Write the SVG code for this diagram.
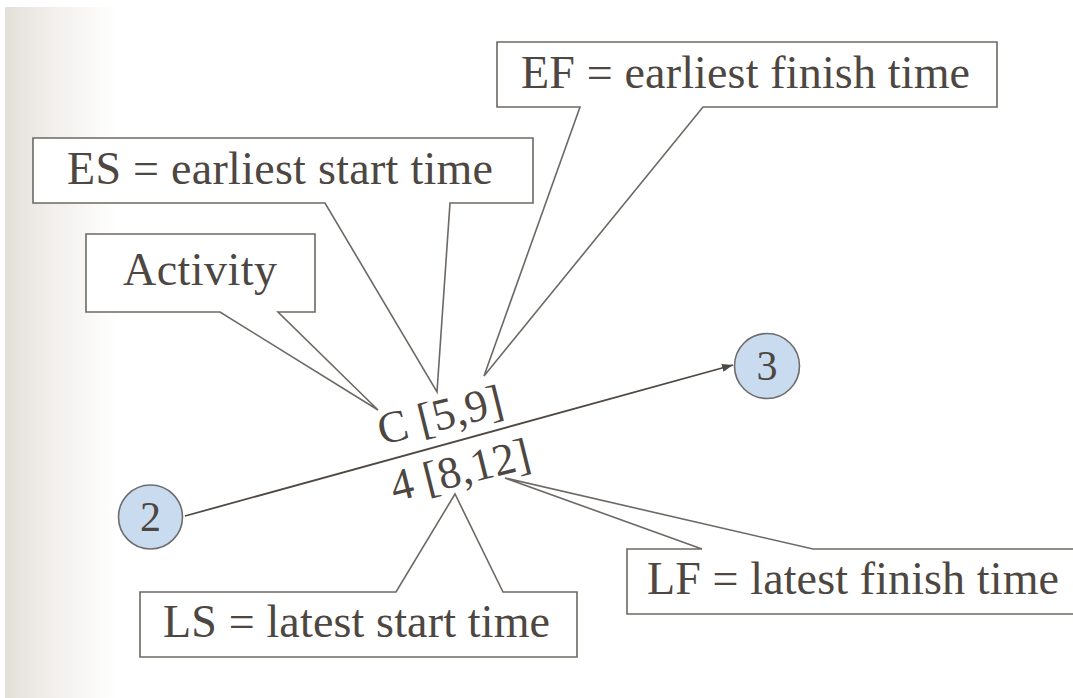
<svg xmlns="http://www.w3.org/2000/svg" width="1073" height="698" viewBox="0 0 1073 698">
  <defs>
    <linearGradient id="side" x1="0" y1="0" x2="1" y2="0">
      <stop offset="0" stop-color="#e3dfd9"/>
      <stop offset="0.35" stop-color="#f0ede9"/>
      <stop offset="1" stop-color="#ffffff"/>
    </linearGradient>
    <marker id="arr" markerWidth="12" markerHeight="10" refX="11" refY="5" orient="auto" markerUnits="userSpaceOnUse">
      <path d="M0,1 L11,5 L0,9 Z" fill="#4f4944"/>
    </marker>
    <style>
      .callout { fill: #ffffff; stroke: #6d6863; stroke-width: 1.6; stroke-linejoin: miter; }
      .lbl { font-family: "Liberation Serif", "Times New Roman", serif; font-size: 46px; fill: #4d4641; }
      .mid { font-family: "Liberation Serif", "Times New Roman", serif; font-size: 45px; fill: #4d4641; text-anchor: middle; }
      .node circle { fill: #c8dbef; stroke: #6f6d6b; stroke-width: 1.6; }
      .node text { font-family: "Liberation Serif", "Times New Roman", serif; font-size: 42px; fill: #4d4641; text-anchor: middle; }
      .edge { stroke: #4f4944; stroke-width: 1.8; fill: none; }
    </style>
  </defs>

  <rect x="0" y="0" width="1073" height="698" fill="#ffffff"/>
  <rect x="5" y="7" width="112" height="691" fill="url(#side)"/>

  <g id="connectors">
    <line class="edge" x1="185" y1="516" x2="733" y2="365" marker-end="url(#arr)"/>
  </g>

  <g id="node-2" class="node">
    <circle cx="150.5" cy="517" r="32"/>
    <text x="150.5" y="531">2</text>
  </g>
  <g id="node-3" class="node">
    <circle cx="767" cy="366" r="32.5"/>
    <text x="767" y="380">3</text>
  </g>

  <g id="activity-label">
    <text class="mid" transform="translate(440,415) rotate(-14)" y="15">C [5,9]</text>
    <text class="mid" transform="translate(460,470) rotate(-14)" y="15">4 [8,12]</text>
  </g>

  <g id="callout-ef">
    <path class="callout" d="M497,42 H997 V107 H703 L484,376 L580,107 H497 Z"/>
    <text class="lbl" x="521" y="88" textLength="449" lengthAdjust="spacing">EF = earliest finish time</text>
  </g>

  <g id="callout-es">
    <path class="callout" d="M33,138 H533 V203 H450 L437,392 L325,203 H33 Z"/>
    <text class="lbl" x="67" y="184" textLength="426" lengthAdjust="spacing">ES = earliest start time</text>
  </g>

  <g id="callout-activity">
    <path class="callout" d="M86,234 H315 V312 H278 L378,410 L220,312 H86 Z"/>
    <text class="lbl" x="123" y="285" textLength="154" lengthAdjust="spacing">Activity</text>
  </g>

  <g id="callout-ls">
    <path class="callout" d="M140,592 H396 L455,494 L503,592 H577 V657 H140 Z"/>
    <text class="lbl" x="163" y="637" textLength="387" lengthAdjust="spacing">LS = latest start time</text>
  </g>

  <g id="callout-lf">
    <path class="callout" d="M627,549 H702 L505,478 L813,549 H1090 V614 H627 Z"/>
    <text class="lbl" x="647" y="594" textLength="412" lengthAdjust="spacing">LF = latest finish time</text>
  </g>
</svg>
